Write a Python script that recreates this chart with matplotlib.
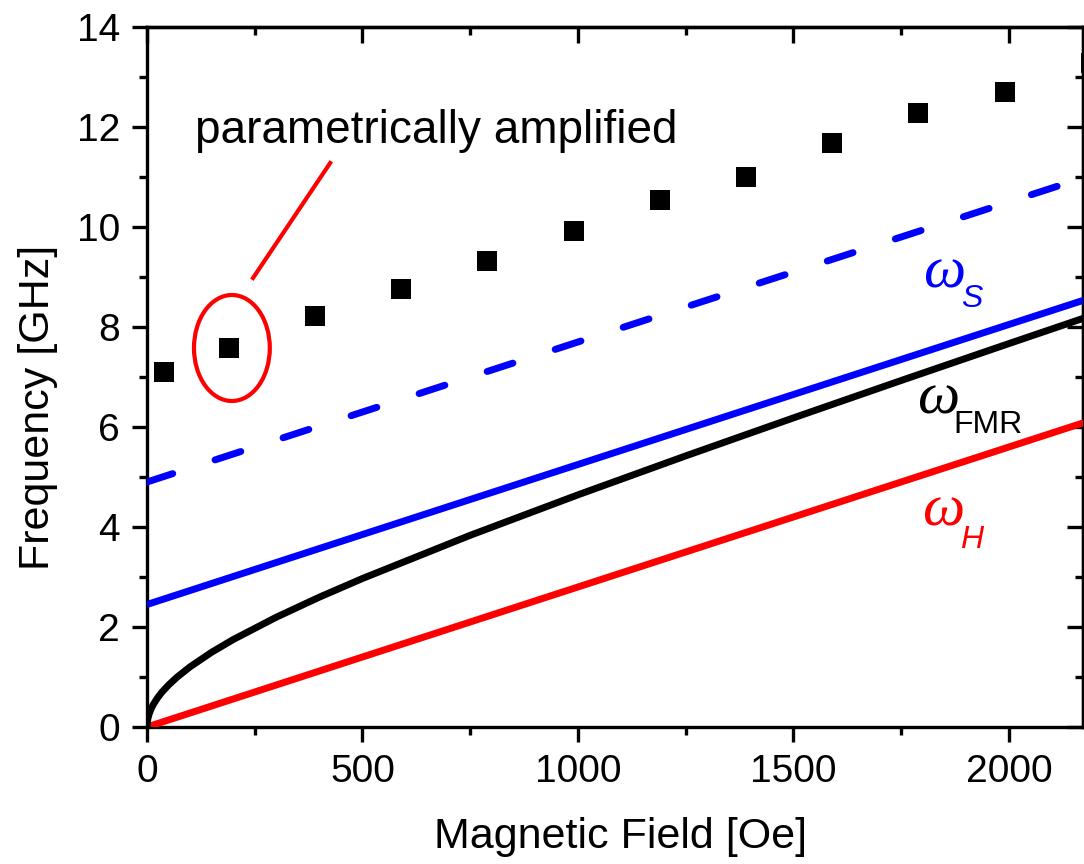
import matplotlib
matplotlib.use("Agg")
import matplotlib.pyplot as plt
from matplotlib.patches import Ellipse
from matplotlib.ticker import MultipleLocator

# ---- data ----
field_pts = [40, 190, 390, 590, 790, 990, 1190, 1390, 1590, 1790, 1990, 2190]
freq_pts = [7.10, 7.58, 8.22, 8.76, 9.32, 9.92, 10.54, 11.00, 11.68, 12.28, 12.70, 13.28]

field_line = [0, 2200]
omega_H = [0.0, 6.16]
omega_S = [2.45, 8.61]
omega_dash = [4.90, 11.06]

field_fmr = [0, 2, 5, 10, 15, 25, 35, 50, 70, 100, 150, 200, 300, 400, 500,
             750, 1000, 1250, 1500, 1750, 2000, 2200]
omega_FMR = [0.0, 0.166, 0.262, 0.371, 0.456, 0.590, 0.700, 0.840, 0.999, 1.204,
             1.495, 1.749, 2.196, 2.597, 2.970, 3.834, 4.643, 5.422, 6.182,
             6.930, 7.668, 8.254]

x_ticks = [0, 500, 1000, 1500, 2000]
y_ticks = [0, 2, 4, 6, 8, 10, 12, 14]

SANS = ["Liberation Sans", "DejaVu Sans"]
SERIF = ["Liberation Serif", "DejaVu Serif"]
plt.rcParams["font.family"] = SANS

fig = plt.figure(figsize=(10.84, 8.64), dpi=100)
ax = fig.add_axes([147 / 1084, 137 / 864, 936 / 1084, 700 / 864])

lw = 5.0
ax.plot(field_line, omega_H, color="#ff0000", lw=lw, solid_capstyle="butt", zorder=3)
ax.plot(field_fmr, omega_FMR, color="black", lw=lw, solid_capstyle="butt",
        solid_joinstyle="round", zorder=3)
ax.plot(field_line, omega_S, color="#0000ff", lw=lw, solid_capstyle="butt", zorder=3)
ax.plot(field_line, omega_dash, color="#0000ff", lw=lw, dashes=(3.9, 6.4),
        dash_capstyle="round", zorder=3)
ax.plot(field_pts, freq_pts, "s", color="black", markersize=14.5,
        markeredgewidth=0, clip_on=False, zorder=4)

# annotation
ax.add_patch(Ellipse((197, 7.58), 176, 2.12, fill=False, edgecolor="#ff0000",
                     lw=3.0, zorder=5))
ax.plot([246, 425], [8.98, 11.28], color="#ff0000", lw=3.0, zorder=5)
ax.text(111, 11.68, "parametrically amplified", fontsize=33, ha="left",
        va="baseline", family=SANS)

# curve labels
ax.text(1800, 8.80, "\u03c9", fontsize=43, color="#0000ff", style="italic",
        family=SERIF, ha="left", va="baseline")
ax.text(1890, 8.40, "S", fontsize=23, color="#0000ff", style="italic",
        family=SANS, ha="left", va="baseline")
ax.text(1787, 6.28, "\u03c9", fontsize=43, color="black", style="italic",
        family=SERIF, ha="left", va="baseline")
ax.text(1872, 5.88, "FMR", fontsize=23, color="black",
        family=SANS, ha="left", va="baseline")
ax.text(1798, 4.04, "\u03c9", fontsize=43, color="#ff0000", style="italic",
        family=SERIF, ha="left", va="baseline")
ax.text(1886, 3.58, "H", fontsize=23, color="#ff0000", style="italic",
        family=SANS, ha="left", va="baseline")

ax.set_xlim(0, 2172)
ax.set_ylim(0, 14)
ax.set_xticks(x_ticks)
ax.set_yticks(y_ticks)
ax.set_xticklabels([str(v) for v in x_ticks])
ax.set_yticklabels([str(v) for v in y_ticks])
ax.xaxis.set_minor_locator(MultipleLocator(250))
ax.yaxis.set_minor_locator(MultipleLocator(1))

for s in ax.spines.values():
    s.set_linewidth(2.4)

ax.tick_params(which="both", direction="out", width=2.4, labelsize=28, pad=9,
               top=False, right=False)
ax.tick_params(which="major", length=10.5)
ax.tick_params(which="minor", length=6)

secx = ax.secondary_xaxis("top")
secx.set_xticks(x_ticks)
secx.xaxis.set_minor_locator(MultipleLocator(250))
secx.tick_params(which="both", direction="in", width=2.4, labeltop=False)
secx.tick_params(which="major", length=11.5)
secx.tick_params(which="minor", length=6)
secx.spines["top"].set_linewidth(2.4)

secy = ax.secondary_yaxis("right")
secy.set_yticks(y_ticks)
secy.yaxis.set_minor_locator(MultipleLocator(1))
secy.tick_params(which="both", direction="in", width=2.4, labelright=False)
secy.tick_params(which="major", length=11.5)
secy.tick_params(which="minor", length=6)
secy.spines["right"].set_linewidth(2.4)

ax.set_xlabel("Magnetic Field [Oe]", fontsize=31)
ax.set_ylabel("Frequency [GHz]", fontsize=31)
ax.xaxis.set_label_coords(0.506, -0.128)
ax.yaxis.set_label_coords(-0.095, 0.456)

fig.savefig("out.png", dpi=100)
